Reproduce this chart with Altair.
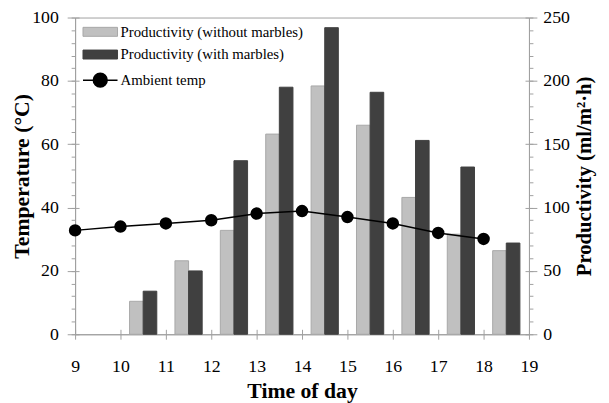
import altair as alt
import pandas as pd

# ---- data ----
bar_hours = [10, 11, 12, 13, 14, 15, 16, 17, 18]
prod_without = [26, 58, 82, 158, 196, 165, 108, 79, 66]
prod_with = [34, 50, 137, 195, 242, 191, 153, 132, 72]
temp_hours = [9, 10, 11, 12, 13, 14, 15, 16, 17, 18]
ambient_temp = [32.8, 34.0, 35.0, 36.0, 38.1, 38.9, 37.0, 35.0, 32.0, 30.1]

temp_ticks = list(range(0, 101, 4))
temp_major = [0, 20, 40, 60, 80, 100]
prod_ticks = list(range(0, 251, 10))
prod_major = [0, 50, 100, 150, 200, 250]
hour_ticks = list(range(9, 20))

S1 = "Productivity (without marbles)"
S2 = "Productivity (with marbles)"
S3 = "Ambient temp"

bars = pd.DataFrame(
    [{"hour": h, "series": S1, "value": v, "slot": 0} for h, v in zip(bar_hours, prod_without)]
    + [{"hour": h, "series": S2, "value": v, "slot": 1} for h, v in zip(bar_hours, prod_with)]
)
temps = pd.DataFrame({"hour": temp_hours, "temp": ambient_temp, "series": S3})

FONT = "Liberation Serif"
GREY = "#a0a0a0"
W, H = 460, 321
xdom = alt.Scale(domain=[9, 19], nice=False, zero=False)
tdom = alt.Scale(domain=[0, 100], nice=False)
pdom = alt.Scale(domain=[0, 250], nice=False)

is_amb = "datum.label == 'Ambient temp'"
is_s1 = f"datum.label == '{S1}'"
color = alt.Color(
    "series:N",
    scale=alt.Scale(domain=[S1, S2, S3], range=["#c0c0c0", "#404040", "#000000"]),
    legend=alt.Legend(
        title=None,
        orient="none",
        legendX=18,
        legendY=7,
        labelFont=FONT,
        labelFontSize=15,
        labelColor="#000",
        labelLimit=400,
        symbolSize=1225,
        rowPadding=7,
        labelOffset=13,
        symbolOpacity=1,
        symbolType={"expr": f"{is_amb} ? 'M-1,0H1M-0.4,0A0.4,0.4 0 1,0 0.4,0A0.4,0.4 0 1,0 -0.4,0' : 'M-1,-0.26H1V0.26H-1Z'"},
        symbolFillColor={"expr": f"{is_amb} ? '#000' : ({is_s1} ? '#c0c0c0' : '#404040')"},
        symbolStrokeColor={"expr": f"{is_amb} ? '#000' : ({is_s1} ? '#a8a8a8' : '#404040')"},
        symbolStrokeWidth={"expr": f"{is_amb} ? 1.5 : 1"},
    ),
)

bar_layer = (
    alt.Chart(bars)
    .transform_calculate(
        x0="datum.hour + 0.2 + 0.3*datum.slot",
        x1="datum.hour + 0.5 + 0.3*datum.slot",
        base="0",
    )
    .mark_bar(strokeWidth=1)
    .encode(
        x=alt.X("x0:Q", scale=xdom,
                axis=alt.Axis(title="Time of day", values=hour_ticks, format="d",
                              tickSize=5, labelPadding=19, titlePadding=5, labelOverlap=False)),
        x2="x1:Q",
        y=alt.Y("value:Q", scale=pdom,
                axis=alt.Axis(orient="right", title="Productivity (ml/m²·h)", values=prod_ticks,
                              labelExpr="datum.value % 50 == 0 ? datum.label : ''",
                              labelOverlap=False, tickSize=4,
                              labelPadding=10, titlePadding=4, titleAngle=270, titleBaseline="top",
                              titleFontSize=21)),
        y2="base:Q",
        fill=color,
        stroke=alt.condition(f"datum.series == '{S1}'", alt.value("#a8a8a8"), alt.value("#404040")),
    )
)

temp_axis = alt.Axis(orient="left", title="Temperature (°C)", values=temp_ticks,
                     labelExpr="datum.value % 20 == 0 ? datum.label : ''",
                     labelOverlap=False, tickSize=4, labelPadding=13, titlePadding=-2)
line_layer = alt.Chart(temps).mark_line(color="#000", strokeWidth=1.5).encode(
    x=alt.X("hour:Q", scale=xdom, axis=None),
    y=alt.Y("temp:Q", scale=tdom, axis=temp_axis),
)
point_layer = alt.Chart(temps).mark_circle(color="#000", size=160, opacity=1).encode(
    x=alt.X("hour:Q", scale=xdom, axis=None),
    y=alt.Y("temp:Q", scale=tdom, axis=temp_axis),
)
temp_layer = alt.layer(line_layer, point_layer)

# major ticks crossing the axis lines (extra axes sharing the same domains)
major_left = alt.Chart(pd.DataFrame({"v": temp_major})).mark_point(opacity=0).encode(
    y=alt.Y("v:Q", scale=tdom,
            axis=alt.Axis(orient="right", offset=-(W + 8), values=temp_major, labels=False,
                          domain=False, tickSize=12, title=None))
)
major_right = alt.Chart(pd.DataFrame({"v": prod_major})).mark_point(opacity=0).encode(
    y=alt.Y("v:Q", scale=pdom,
            axis=alt.Axis(orient="left", offset=-(W + 8), values=prod_major, labels=False,
                          domain=False, tickSize=12, title=None))
)
inner_bottom = alt.Chart(pd.DataFrame({"v": hour_ticks})).mark_point(opacity=0).encode(
    x=alt.X("v:Q", scale=xdom,
            axis=alt.Axis(orient="top", offset=-H, values=hour_ticks, labels=False,
                          domain=False, tickSize=5, title=None))
)

chart = (
    alt.layer(bar_layer, temp_layer, major_left, major_right, inner_bottom)
    .resolve_scale(y="independent", x="independent")
    .properties(
        width=W,
        height=H,
        autosize=alt.AutoSizeParams(type="none"),
        padding={"left": 68, "top": 7, "right": 73, "bottom": 67},
    )
    .configure_view(stroke=GREY, strokeWidth=1)
    .configure_axis(
        domainColor=GREY,
        tickColor=GREY,
        grid=False,
        labelFlush=False,
        labelFont=FONT,
        labelFontSize=18,
        labelColor="#000",
        titleFont=FONT,
        titleFontSize=22,
        titleFontWeight="bold",
        titleColor="#000",
    )
)

chart.save("out.html", embed_options={"renderer": "svg", "actions": False})
